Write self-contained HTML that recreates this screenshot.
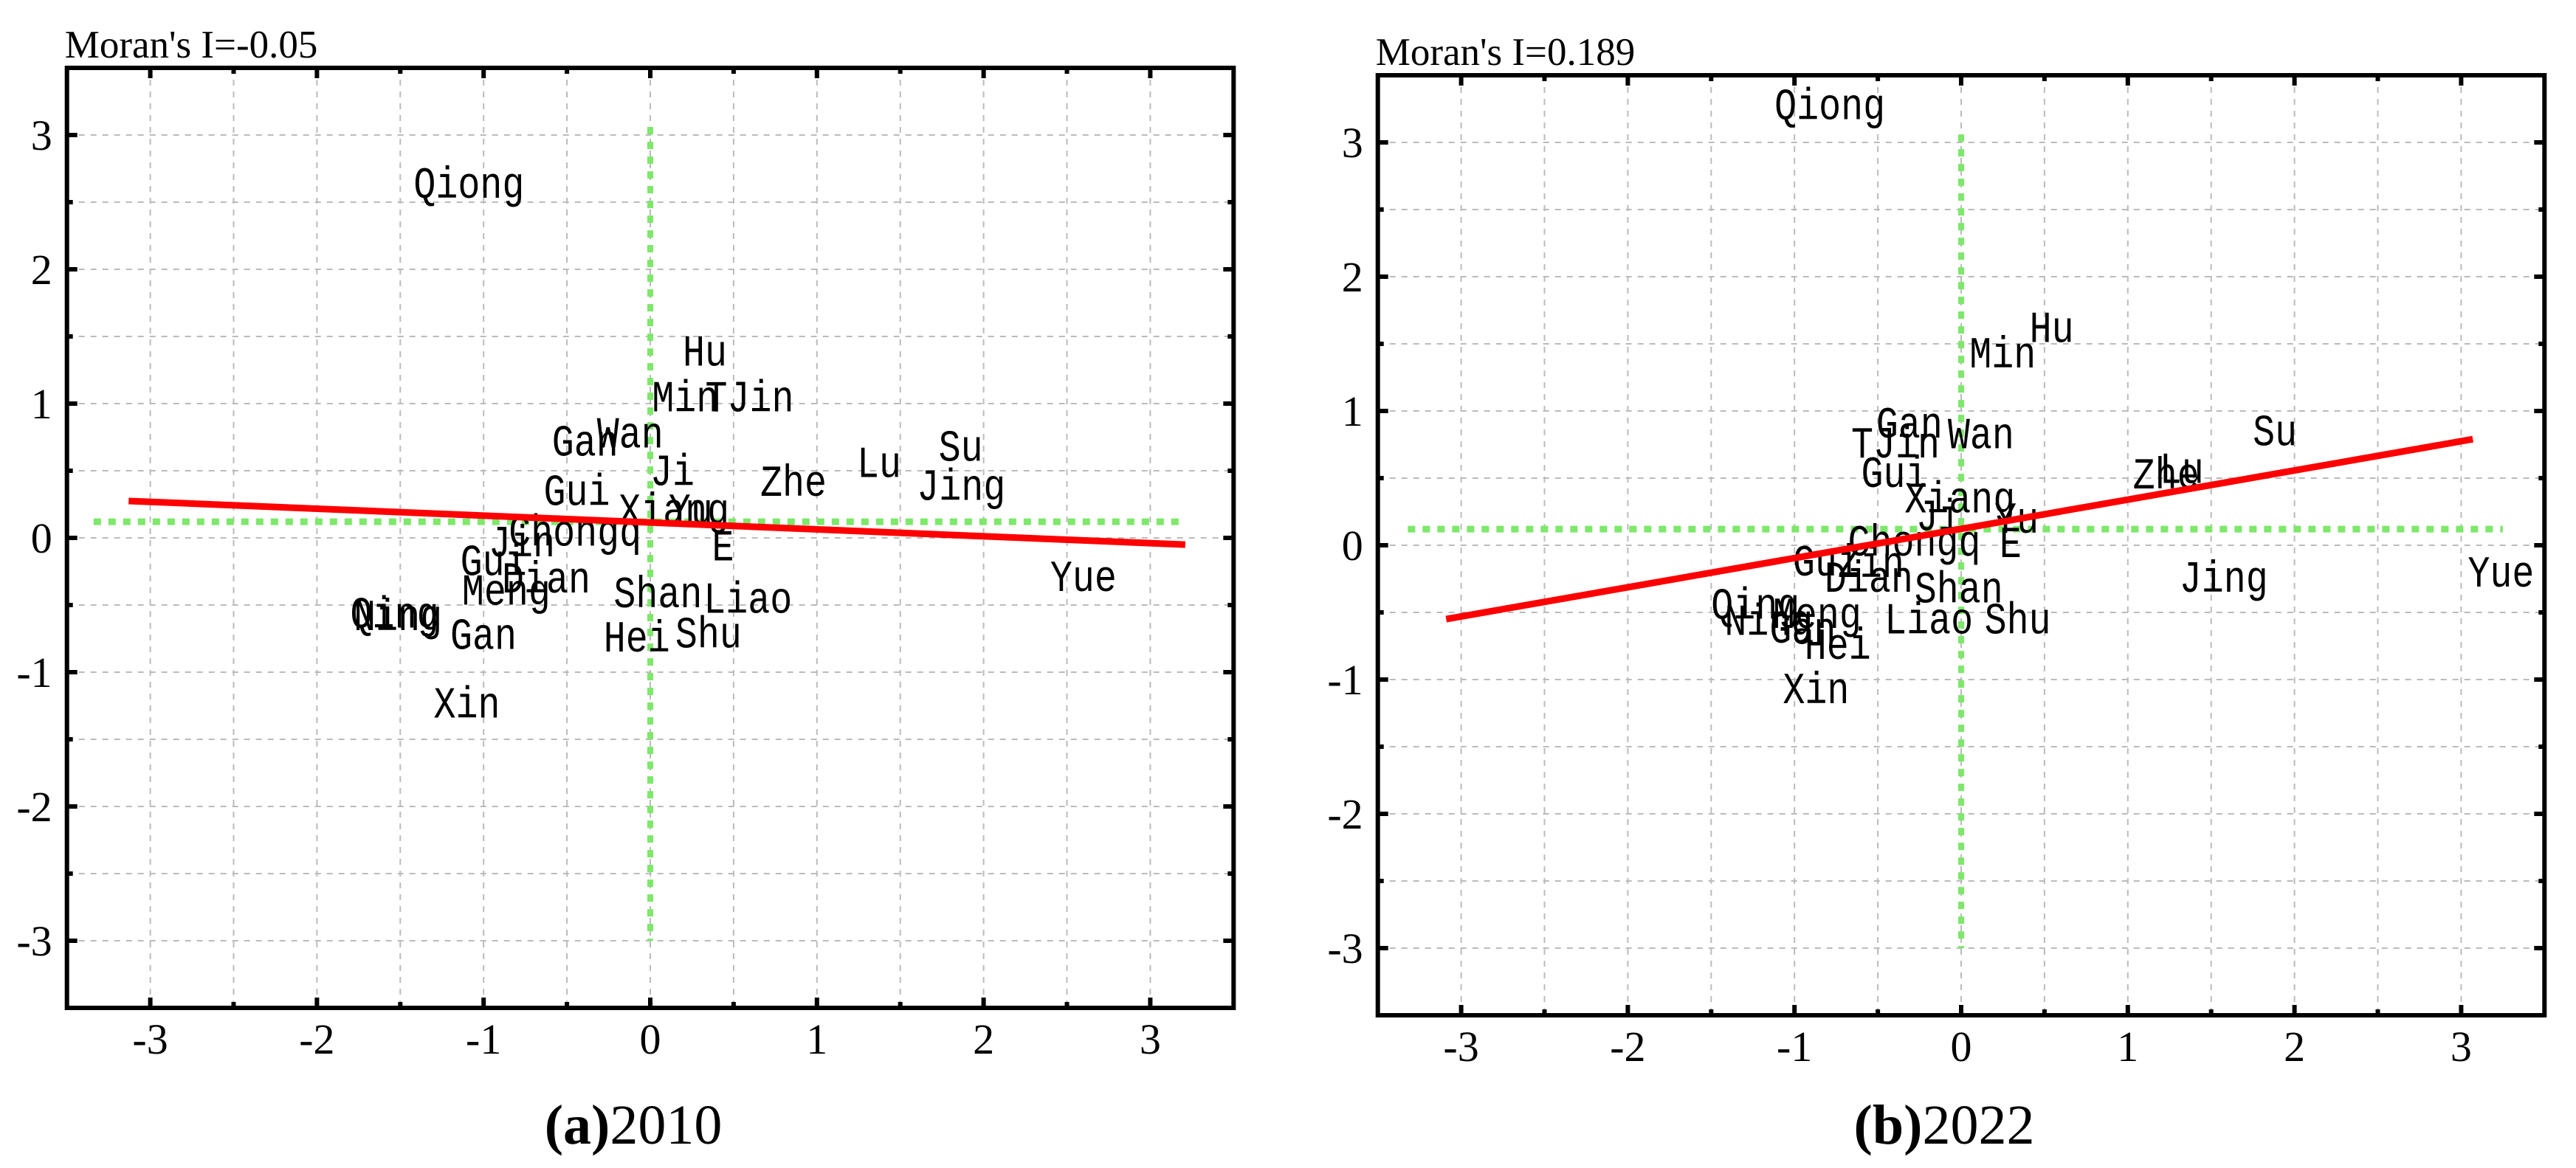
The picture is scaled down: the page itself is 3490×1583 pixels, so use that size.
<!DOCTYPE html>
<html><head><meta charset="utf-8"><style>
html,body{margin:0;padding:0;background:#fff}
svg{display:block}
.tk{font-family:"Liberation Serif",serif;font-size:58px;fill:#000}
.lb{font-family:"Liberation Mono",monospace;font-size:50px;fill:#000}
.tt{font-family:"Liberation Serif",serif;font-size:53px;fill:#000}
.cap{font-family:"Liberation Serif",serif;font-size:76px;fill:#000}
</style></head><body>
<svg id="fig" width="3490" height="1583" viewBox="0 0 3490 1583" xmlns="http://www.w3.org/2000/svg"></svg>
<script>
const tickValues = [-3,-2,-1,0,1,2,3];
const namesA = ["Qiong","Hu","Min","TJin","Gan","Wan","Ji","Zhe","Lu","Su","Jing","Gui","Xiang","Yu","E","Chongq","Jin","Gui","Dian","Meng","Shan","Liao","Qing","Ning","Gan","Hei","Shu","Xin","Yue"];
const xA = [-1.42,0.195,0.01,0.33,-0.59,-0.32,0.0,0.66,1.24,1.73,1.60,-0.64,-0.19,0.11,0.37,-0.85,-0.97,-1.14,-0.89,-1.13,-0.22,0.32,-1.80,-1.78,-1.20,-0.28,0.15,-1.30,2.40];
const yA = [2.62,1.37,1.03,1.03,0.70,0.76,0.48,0.40,0.54,0.66,0.37,0.33,0.19,0.19,-0.08,0.03,-0.05,-0.19,-0.32,-0.41,-0.43,-0.47,-0.58,-0.60,-0.74,-0.76,-0.73,-1.25,-0.31];
const namesB = ["Qiong","Hu","Min","Gan","Wan","TJin","Gui","Xiang","Ji","Yu","Zhe","Lu","Su","Chongq","E","Gui","Zin","Dian","Shan","Jing","Yue","Qing","Meng","Ning","Gan","Liao","Shu","Hei","Xin"];
const xB = [-1.12,0.41,0.05,-0.51,-0.08,-0.66,-0.60,-0.34,-0.27,0.20,1.03,1.19,1.75,-0.68,0.23,-1.01,-0.74,-0.82,-0.28,1.31,3.04,-1.50,-1.13,-1.42,-1.15,-0.46,0.14,-0.94,-1.07];
const yB = [3.26,1.60,1.41,0.89,0.81,0.74,0.52,0.33,0.20,0.18,0.51,0.55,0.83,0.01,0.0,-0.14,-0.15,-0.26,-0.34,-0.26,-0.22,-0.46,-0.53,-0.58,-0.64,-0.57,-0.57,-0.76,-1.09];
const fitA = [[-3.13,0.275],[3.21,-0.05]];
const fitB = [[-3.09,-0.55],[3.07,0.79]];
const meanA = [0.12, -3.34, 3.21];
const meanB = [0.12, -3.32, 3.25];
const moranA = "Moran's I=-0.05", moranB = "Moran's I=0.189";

const NS="http://www.w3.org/2000/svg";
const svg=document.getElementById('fig');
function mk(t,a,p){const e=document.createElementNS(NS,t);for(const k in a)e.setAttribute(k,a[k]);(p||svg).appendChild(e);return e;}

function panel(id,x0,y0,names,xs,ys,fit,mean,title,capLetter,capYear){
  const U=225.8,V=182;
  const X=v=>x0+v*U, Y=v=>y0-v*V;
  const L=X(-3.5),R=X(3.5),T=Y(3.5),B=Y(-3.5);
  const g=mk('g',{});
  
  
  for(let v=-3;v<=3.01;v+=0.5){
    const gx=mk('line',{x1:X(v),x2:X(v),y1:T,y2:B,stroke:'#bbb','stroke-width':2,'stroke-dasharray':'8 8'},g);
    
    
    const gy=mk('line',{x1:L,x2:R,y1:Y(v),y2:Y(v),stroke:'#bbb','stroke-width':2,'stroke-dasharray':'8 8'},g);
    
    
    const maj=Math.abs(v-Math.round(v))<1e-6, len=maj?14:8;
    mk('line',{x1:X(v),x2:X(v),y1:B,y2:B-len,stroke:'#000','stroke-width':6},g);
    mk('line',{x1:X(v),x2:X(v),y1:T,y2:T+len,stroke:'#000','stroke-width':6},g);
    mk('line',{x1:L,x2:L+len,y1:Y(v),y2:Y(v),stroke:'#000','stroke-width':6},g);
    mk('line',{x1:R,x2:R-len,y1:Y(v),y2:Y(v),stroke:'#000','stroke-width':6},g);
  }
  tickValues.forEach(v=>{
    const tx=mk('text',{x:X(v),y:B+62,'text-anchor':'middle',class:'tk'},g);tx.textContent=String(v);
    
    
    const ty=mk('text',{x:L-20,y:Y(v)+20,'text-anchor':'end',class:'tk'},g);ty.textContent=String(v);
    
    
  });
  const mh=mk('line',{x1:X(mean[1]),x2:X(mean[2]),y1:Y(mean[0]),y2:Y(mean[0]),stroke:'#7de86a','stroke-width':9,'stroke-dasharray':'10 10'},g);
  
  
  const mv=mk('line',{x1:X(0),x2:X(0),y1:Y(3.06),y2:Y(-3.0),stroke:'#7de86a','stroke-width':8,'stroke-dasharray':'10 10'},g);
  
  
  names.forEach((n,i)=>{
    const t=mk('text',{class:'lb','dominant-baseline':'central',transform:`translate(${X(xs[i])},${Y(ys[i])}) scale(1,1.2)`},g);
    t.textContent=n;
    
    
  });
  const f=mk('line',{x1:X(fit[0][0]),y1:Y(fit[0][1]),x2:X(fit[1][0]),y2:Y(fit[1][1]),stroke:'#ff0000','stroke-width':9},g);
  
  
  const fr=mk('rect',{x:L,y:T,width:R-L,height:B-T,fill:'none',stroke:'#000','stroke-width':6},g);
  
  
  const tt=mk('text',{x:L-3,y:T-14,class:'tt'},g);tt.textContent=title;
  
  
  const c=mk('text',{x:x0-23,y:1550,'text-anchor':'middle',class:'cap'},g);
  const b=mk('tspan',{'font-weight':'bold'},c);b.textContent=capLetter;
  const s=mk('tspan',{},c);s.textContent=capYear;
  
  
}
panel('panel-2010',881,729,namesA,xA,yA,fitA,meanA,moranA,'(a)','2010');
panel('panel-2022',2657,739,namesB,xB,yB,fitB,meanB,moranB,'(b)','2022');
</script>
</body></html>
